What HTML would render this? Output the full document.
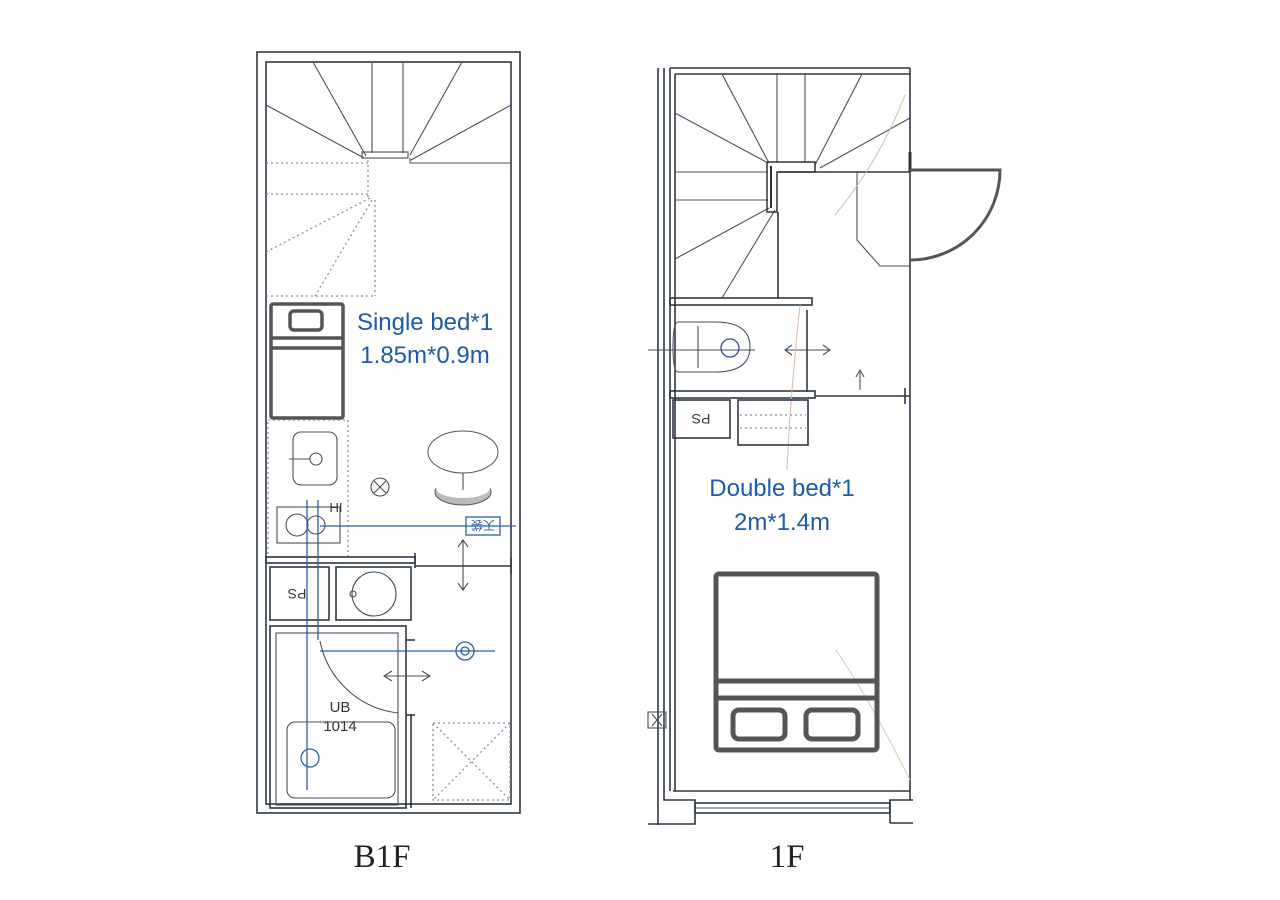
<!DOCTYPE html>
<html><head><meta charset="utf-8"><style>
html,body{margin:0;padding:0;background:#fff;}
svg{display:block;}
.w{fill:none;stroke:#2f3645;stroke-width:1.6;}
.t{fill:none;stroke:#4a4f58;stroke-width:1.1;}
.d{fill:none;stroke:#8a8f98;stroke-width:1.3;stroke-dasharray:2 3;}
.b{fill:none;stroke:#2f5fa0;stroke-width:1.3;}
.bed{fill:none;stroke:#555;stroke-width:3.5;}
.lbl{font-family:"Liberation Sans",sans-serif;font-size:24px;fill:#1f5aa6;text-anchor:middle;}
.fl{font-family:"Liberation Serif",serif;font-size:33px;fill:#222;text-anchor:middle;}
</style></head><body>
<svg width="1280" height="900" viewBox="0 0 1280 900" xmlns="http://www.w3.org/2000/svg">
<!-- ===== B1F ===== -->
<rect class="w" x="257" y="52" width="263" height="761" stroke-width="2"/>
<rect class="w" x="266" y="62" width="245" height="742"/>
<line class="t" x1="313" y1="62" x2="366" y2="156"/>
<line class="t" x1="372" y1="62" x2="372" y2="153"/>
<line class="t" x1="403" y1="62" x2="403" y2="153"/>
<line class="t" x1="462" y1="62" x2="410" y2="155"/>
<line class="t" x1="266" y1="105" x2="364" y2="158"/>
<line class="t" x1="511" y1="105" x2="411" y2="160"/>
<rect class="t" x="362" y="152" width="46" height="6" stroke-width="1.6"/>
<polyline class="t" points="410,158 410,163 511,163"/>
<line class="d" x1="266" y1="163" x2="368" y2="163"/>
<line class="d" x1="266" y1="194" x2="368" y2="194"/>
<line class="d" x1="368" y1="160" x2="368" y2="198"/>
<line class="d" x1="375" y1="200" x2="375" y2="296"/>
<line class="d" x1="370" y1="198" x2="266" y2="252"/>
<line class="d" x1="372" y1="200" x2="315" y2="296"/>
<line class="d" x1="266" y1="296" x2="375" y2="296"/>
<rect class="bed" x="271" y="304" width="72" height="114" rx="2"/>
<rect class="bed" x="290" y="311" width="32" height="19" rx="4"/>
<line class="bed" x1="271" y1="338" x2="343" y2="338"/>
<line class="bed" x1="271" y1="348" x2="343" y2="348"/>
<text class="lbl" x="425" y="330">Single bed*1</text>
<text class="lbl" x="425" y="363">1.85m*0.9m</text>
<rect class="d" x="268" y="420" width="80" height="137"/>
<rect class="t" x="293" y="432" width="44" height="53" rx="8" stroke="#aaa"/>
<circle class="t" cx="316" cy="459" r="6"/>
<line class="t" x1="289" y1="459" x2="310" y2="459"/>
<rect class="t" x="277" y="507" width="63" height="36" stroke="#aaa"/>
<circle class="t" cx="297" cy="525" r="11"/>
<circle class="t" cx="316" cy="525" r="9"/>
<text x="336" y="513" font-family="Liberation Sans,sans-serif" font-size="13" fill="#333" text-anchor="middle" transform="rotate(180 336 508)">IH</text>
<circle class="t" cx="380" cy="487" r="9"/>
<line class="t" x1="374" y1="481" x2="386" y2="493"/><line class="t" x1="386" y1="481" x2="374" y2="493"/>
<ellipse cx="463" cy="492" rx="28" ry="13" fill="#bbb" stroke="#555"/>
<ellipse cx="463" cy="488" rx="27" ry="10" fill="#fff" stroke="none"/>
<line class="t" x1="463" y1="473" x2="463" y2="490"/>
<ellipse cx="463" cy="452" rx="35" ry="21" fill="#fff" stroke="#555"/>
<rect class="w" x="266" y="557" width="149" height="6"/>
<line class="w" x1="415" y1="553" x2="415" y2="568"/>
<line class="w" x1="415" y1="566" x2="511" y2="566"/>
<line class="w" x1="511" y1="558" x2="511" y2="574"/>
<line class="b" x1="320" y1="526" x2="516" y2="526"/>
<rect class="b" x="466" y="517" width="34" height="18"/>
<text x="483" y="531" font-family="Noto Sans CJK JP,sans-serif" font-size="12" fill="#2f5fa0" text-anchor="middle" transform="rotate(180 483 526)">天袋</text>
<line class="t" x1="463" y1="540" x2="463" y2="590"/>
<polyline class="t" points="458,547 463,540 468,547"/><polyline class="t" points="458,583 463,590 468,583"/>
<rect class="w" x="270" y="567" width="59" height="53"/>
<text x="297" y="599" font-family="Liberation Sans,sans-serif" font-size="14" fill="#333" text-anchor="middle" transform="rotate(180 297 594)">PS</text>
<rect class="w" x="336" y="567" width="75" height="53"/>
<circle class="t" cx="374" cy="594" r="22" stroke="#888"/>
<circle class="t" cx="353" cy="594" r="3"/>
<rect class="w" x="270" y="626" width="136" height="182"/>
<rect class="t" x="276" y="633" width="122" height="172"/>
<line class="w" x1="406" y1="640" x2="415" y2="640"/>
<line class="w" x1="406" y1="715" x2="415" y2="715"/>
<line class="w" x1="411" y1="715" x2="411" y2="808"/>
<path class="t" d="M320 641 A90 90 0 0 0 398 713" stroke="#aaa"/>
<line class="b" x1="320" y1="651" x2="495" y2="651"/>
<circle class="b" cx="465" cy="651" r="9" stroke-width="2"/>
<circle class="b" cx="465" cy="651" r="4"/>
<line class="t" x1="384" y1="676" x2="430" y2="676"/>
<polyline class="t" points="392,671 384,676 392,681"/><polyline class="t" points="422,671 430,676 422,681"/>
<text x="340" y="712" font-family="Liberation Sans,sans-serif" font-size="15" fill="#333" text-anchor="middle">UB</text>
<text x="340" y="731" font-family="Liberation Sans,sans-serif" font-size="15" fill="#333" text-anchor="middle">1014</text>
<rect class="t" x="287" y="722" width="108" height="76" rx="8" stroke="#999"/>
<circle class="b" cx="310" cy="758" r="9" stroke-width="2"/>
<line class="b" x1="307" y1="500" x2="307" y2="790"/>
<line class="b" x1="318" y1="500" x2="318" y2="640"/>
<rect class="d" x="433" y="723" width="77" height="77"/>
<line class="d" x1="433" y1="723" x2="510" y2="800"/><line class="d" x1="510" y1="723" x2="433" y2="800"/>
<text class="fl" x="382" y="867">B1F</text>

<!-- ===== 1F ===== -->
<line class="w" x1="658" y1="68" x2="658" y2="825"/>
<polyline class="w" points="664,68 664,800 695,800 695,824 648,824"/>
<line class="w" x1="670" y1="68" x2="910" y2="68"/>
<line class="w" x1="675" y1="74" x2="910" y2="74"/>
<line class="w" x1="670" y1="68" x2="670" y2="791"/>
<line class="w" x1="675" y1="74" x2="675" y2="791"/>
<line class="w" x1="910" y1="68" x2="910" y2="800"/>
<line class="w" x1="673" y1="791" x2="910" y2="791"/>
<rect class="w" x="695" y="803" width="195" height="10"/>
<line class="t" x1="695" y1="808" x2="890" y2="808"/>
<polyline class="w" points="890,823 890,800 913,800"/>
<line class="w" x1="890" y1="823" x2="913" y2="823"/>
<line class="t" x1="722" y1="74" x2="769" y2="163"/>
<line class="t" x1="777" y1="74" x2="777" y2="163"/>
<line class="t" x1="805" y1="74" x2="805" y2="163"/>
<line class="t" x1="862" y1="74" x2="815" y2="165"/>
<line class="t" x1="910" y1="118" x2="820" y2="168"/>
<line class="t" x1="675" y1="113" x2="768" y2="163"/>
<line class="t" x1="675" y1="172" x2="768" y2="172"/>
<line class="t" x1="675" y1="200" x2="768" y2="200"/>
<line class="t" x1="675" y1="259" x2="769" y2="208"/>
<line class="t" x1="722" y1="298" x2="775" y2="210"/>
<path d="M767 162 H815 V172 H777 V212 H767 Z" fill="none" stroke="#333" stroke-width="1.5"/>
<line x1="771" y1="166" x2="771" y2="208" stroke="#333" stroke-width="2"/>
<line class="w" x1="777" y1="172" x2="910" y2="172"/>
<line class="w" x1="778" y1="212" x2="778" y2="298"/>
<line x1="910" y1="152" x2="910" y2="172" stroke="#333" stroke-width="3"/>
<path d="M910 170 H1000 A90 90 0 0 1 910 260" fill="none" stroke="#555" stroke-width="3"/>
<polyline class="t" points="857,172 857,240 880,266 910,266"/>
<rect class="w" x="670" y="298" width="142" height="7"/>
<path class="t" d="M678 322 H715 Q750 322 750 347 Q750 372 715 372 H678 Q673 372 673 347 Q673 322 678 322 Z"/>
<line class="t" x1="698" y1="326" x2="698" y2="368"/>
<circle cx="730" cy="348" r="9" fill="none" stroke="#3a4a9a" stroke-width="1.3"/>
<line class="t" x1="648" y1="350" x2="755" y2="350"/>
<line class="w" x1="807" y1="310" x2="807" y2="392" stroke-width="2"/>
<line class="t" x1="785" y1="350" x2="830" y2="350"/>
<polyline class="t" points="792,345 785,350 792,355"/><polyline class="t" points="823,345 830,350 823,355"/>
<rect class="w" x="670" y="391" width="145" height="7"/>
<line class="w" x1="815" y1="396" x2="910" y2="396"/>
<line class="w" x1="905" y1="388" x2="905" y2="404"/>
<line class="t" x1="860" y1="372" x2="860" y2="390"/><polyline class="t" points="856,377 860,370 864,377"/>
<path d="M800 305 Q790 400 787 470" fill="none" stroke="#d8b8a0" stroke-width="1"/>
<path d="M905 95 Q880 160 835 215" fill="none" stroke="#d8b8a0" stroke-width="1"/>
<path d="M836 650 Q870 700 910 780" fill="none" stroke="#d8c8b8" stroke-width="1"/>
<rect class="w" x="673" y="400" width="57" height="38"/>
<text x="701" y="424" font-family="Liberation Sans,sans-serif" font-size="14" fill="#333" text-anchor="middle" transform="rotate(180 701 419)">PS</text>
<rect class="w" x="738" y="400" width="70" height="45" stroke="#999"/>
<line class="d" x1="740" y1="415" x2="806" y2="415"/><line class="d" x1="740" y1="428" x2="806" y2="428"/>
<text class="lbl" x="782" y="496">Double bed*1</text>
<text class="lbl" x="782" y="530">2m*1.4m</text>
<rect x="716" y="574" width="161" height="176" rx="3" fill="none" stroke="#555" stroke-width="5"/>
<line x1="716" y1="681" x2="877" y2="681" stroke="#555" stroke-width="5"/>
<line x1="716" y1="698" x2="877" y2="698" stroke="#555" stroke-width="5"/>
<rect x="733" y="710" width="52" height="29" rx="6" fill="none" stroke="#555" stroke-width="5"/>
<rect x="806" y="710" width="52" height="29" rx="6" fill="none" stroke="#555" stroke-width="5"/>
<rect class="t" x="648" y="712" width="18" height="16"/>
<line class="t" x1="652" y1="714" x2="662" y2="726"/><line class="t" x1="662" y1="714" x2="652" y2="726"/>
<text class="fl" x="787" y="867">1F</text>
</svg>
</body></html>
